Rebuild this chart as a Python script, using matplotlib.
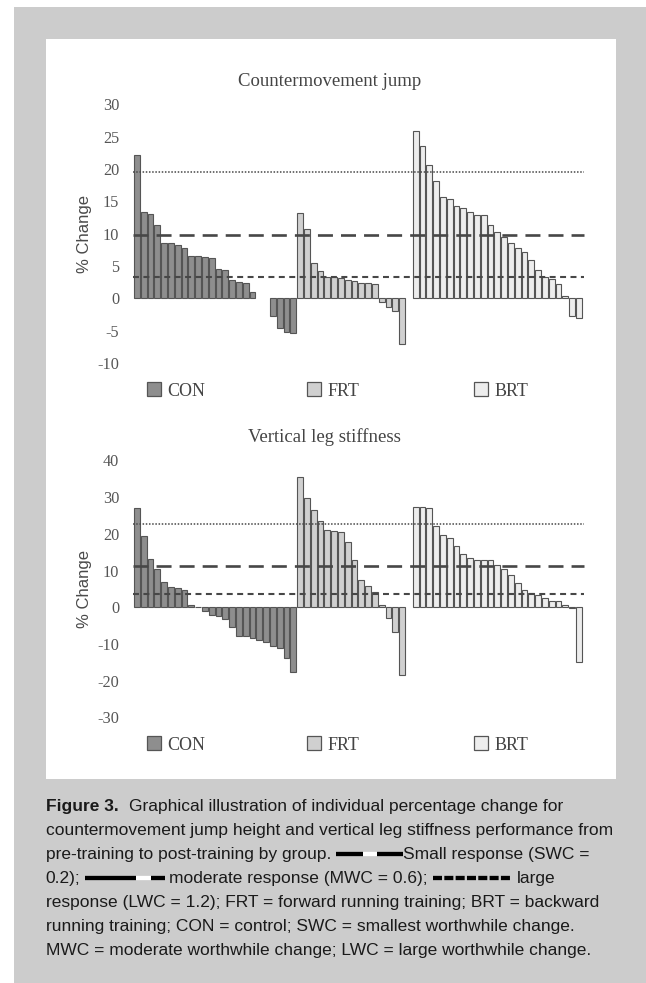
import numpy as np
import matplotlib
matplotlib.use("Agg")
import matplotlib.pyplot as plt
from matplotlib.patches import Rectangle
from matplotlib.lines import Line2D

plt.rcParams['lines.scale_dashes'] = False
plt.rcParams['axes.unicode_minus'] = False

nan = np.nan
# ---------------- data ----------------
groups = ["CON", "FRT", "BRT"]
cmj_con = [22.2, 13.4, 13.0, 11.4, 8.5, 8.5, 8.2, 7.7, 6.5, 6.5, 6.4, 6.2, 4.5, 4.3,
           2.8, 2.5, 2.3, 1.0, nan, nan, -2.8, -4.6, -5.2, -5.4]
cmj_frt = [13.2, 10.7, 5.4, 4.2, 3.35, 3.35, 3.1, 2.8, 2.6, 2.3, 2.3, 2.2, -0.6, -1.3, -1.9, -7.0]
cmj_brt = [25.9, 23.5, 20.6, 18.1, 15.6, 15.3, 14.2, 13.9, 13.4, 12.9, 12.8, 11.3, 10.3, 9.5,
           8.6, 7.8, 7.1, 5.9, 4.3, 3.35, 3.0, 2.2, 0.36, -2.7, -3.0]
ls_con = [27.0, 19.5, 13.2, 10.4, 6.8, 5.6, 5.3, 4.8, 0.5, 0.2, -1.0, -2.0, -2.5, -3.3,
          -5.3, -7.7, -7.7, -8.5, -8.9, -9.5, -10.5, -11.1, -13.7, -17.5]
ls_frt = [35.6, 29.8, 26.5, 23.6, 21.1, 20.7, 20.5, 17.7, 12.9, 7.5, 5.8, 4.2, 0.5, -2.9, -6.8, -18.4]
ls_brt = [27.3, 27.3, 27.0, 22.2, 19.7, 18.8, 16.8, 14.6, 13.5, 12.9, 12.9, 12.9, 11.5, 10.5,
          8.7, 6.5, 4.6, 3.9, 3.4, 2.5, 1.7, 1.7, 0.6, -0.2, -14.9]
cmj_thresholds = {"small": 3.27, "moderate": 9.8, "large": 19.6}
ls_thresholds = {"small": 3.75, "moderate": 11.3, "large": 22.6}
cmj_ticks = [-10, -5, 0, 5, 10, 15, 20, 25, 30]
ls_ticks = [-30, -20, -10, 0, 10, 20, 30, 40]
titles = ["Countermovement jump", "Vertical leg stiffness"]
ylabel = "% Change"

# ---------------- styles ----------------
W, H = 646, 983
fills = {"CON": "#8e8e8e", "FRT": "#d0d0d0", "BRT": "#ededed"}
edge = "#555555"
serif = "Liberation Serif"
sans = "Liberation Sans"

def fx(x):
    return x / W

def fy(y):
    return 1 - y / H

fig = plt.figure(figsize=(W / 100, H / 100), dpi=100)
fig.patch.set_facecolor("white")
fig.add_artist(Rectangle((fx(14), 0), 1 - fx(14), fy(7), transform=fig.transFigure,
                         facecolor="#cccccc", edgecolor="none", zorder=0))
fig.add_artist(Rectangle((fx(45.7), fy(779)), fx(616) - fx(45.7), fy(39) - fy(779),
                         transform=fig.transFigure, facecolor="white", edgecolor="none", zorder=0))

ax_left_px, ax_right_px = 125, 590
x0_px, pitch = 136.85, 6.8
xlim = ((ax_left_px - x0_px) / pitch, (ax_right_px - x0_px) / pitch)


def panel(top_px, bot_px, ylim, ticks, con, frt, brt, thr, title, title_x, title_y, leg_y):
    ax = fig.add_axes([fx(ax_left_px), fy(bot_px), fx(ax_right_px) - fx(ax_left_px),
                       fy(top_px) - fy(bot_px)])
    ax.set_facecolor("none")
    start = {"CON": 0, "FRT": len(con), "BRT": len(con) + len(frt) + 1}
    for g, vals in zip(groups, [con, frt, brt]):
        x = np.arange(len(vals)) + start[g]
        ax.bar(x, vals, width=0.84, color=fills[g], edgecolor=edge, linewidth=0.8, zorder=2)
    xe = (-0.5, start["BRT"] + len(brt) - 0.3)
    lc = "#474747"
    ax.hlines(thr["large"], *xe, colors=lc, linewidth=1.1, linestyles=(0, (1.1, 1.2)), zorder=3)
    ax.hlines(thr["moderate"], *xe, colors=lc, linewidth=1.9, linestyles=(0, (10.8, 5.8)), zorder=3)
    ax.hlines(thr["small"], *xe, colors=lc, linewidth=1.5, linestyles=(0, (4.3, 3.2)), zorder=3)
    ax.set_xlim(*xlim)
    ax.set_ylim(*ylim)
    ax.set_xticks([])
    ax.set_yticks(ticks)
    ax.set_yticklabels([str(t) for t in ticks], fontsize=11.7, family=serif, color="#555555")
    ax.tick_params(axis="y", length=0, pad=4.3)
    for s in ax.spines.values():
        s.set_visible(False)
    fig.text(fx(title_x), fy(title_y), title, ha="center", va="baseline", fontsize=13.5,
             family=serif, color="#444444")
    fig.text(fx(85), fy((top_px + bot_px) / 2), ylabel, rotation=90, ha="center", va="center",
             fontsize=12, family=sans, color="#4a4a4a")
    for g, sx in zip(groups, [146.7, 306.7, 474.3]):
        fig.add_artist(Rectangle((fx(sx), fy(leg_y + 14)), 14 / W, 14 / H, transform=fig.transFigure,
                                 facecolor=fills[g], edgecolor=edge, linewidth=0.9, zorder=3))
        fig.text(fx(sx + 20.5), fy(leg_y + 13.5), g, ha="left", va="baseline", fontsize=13,
                 family=serif, color="#444444")
    return ax


panel(104.3, 362.9, (-10, 30), cmj_ticks, cmj_con, cmj_frt, cmj_brt, cmj_thresholds,
      titles[0], 330, 86.5, 382.3)
panel(460.5, 717.4, (-30, 40), ls_ticks, ls_con, ls_frt, ls_brt, ls_thresholds,
      titles[1], 324, 441.5, 736)

# ---------------- caption ----------------
renderer = fig.canvas.get_renderer()
cap_lines = [
    "countermovement jump height and vertical leg stiffness performance from",
]
probe = fig.text(0, 0, cap_lines[0], fontsize=12, family=sans)
wpx = probe.get_window_extent(renderer).width
probe.remove()
cs = 12 * 567 / wpx
ccol = "#1a1a1a"


def put(x, y, s, bold=False):
    t = fig.text(fx(x), fy(y), s, ha="left", va="baseline", fontsize=cs, family=sans,
                 color=ccol, fontweight="bold" if bold else "normal")
    return t.get_window_extent(renderer).x1


p1 = fig.text(0, 0, "aa", fontsize=cs, family=sans)
p2 = fig.text(0, 0, "a a", fontsize=cs, family=sans)
sp = p2.get_window_extent(renderer).width - p1.get_window_extent(renderer).width
p1.remove(); p2.remove()


def hseg(xa, xb, y, color, lw=3.1, dashes=None):
    kw = dict(transform=fig.transFigure, color=color, linewidth=lw, solid_capstyle="butt",
              dash_capstyle="butt")
    if dashes:
        kw["linestyle"] = (0, dashes)
    fig.add_artist(Line2D([fx(xa), fx(xb)], [fy(y), fy(y)], **kw))


X0 = 45.7
bl = [810.7, 835, 859, 882.7, 906.7, 930.7, 955]
e = put(X0, bl[0], "Figure 3.", bold=True)
put(e + 2.1 * sp, bl[0], "Graphical illustration of individual percentage change for")
put(X0, bl[1], cap_lines[0])
e = put(X0, bl[2], "pre-training to post-training by group.")
g0 = e + sp
gy = bl[2] - 5
hseg(g0, g0 + 27, gy, "black")
hseg(g0 + 27, g0 + 41, gy, "white")
hseg(g0 + 41, g0 + 67, gy, "black")
put(g0 + 67.5, bl[2], "Small response (SWC =")
e = put(X0, bl[3], "0.2);")
g0 = e + sp
gy = bl[3] - 5
hseg(g0, g0 + 51, gy, "black")
hseg(g0 + 51, g0 + 66, gy, "white")
hseg(g0 + 66, g0 + 79.4, gy, "black")
e = put(g0 + 79.4 + sp, bl[3], "moderate response (MWC = 0.6);")
g0 = e + sp
hseg(g0, g0 + 79, gy, "black", dashes=(6.5, 1.65))
put(g0 + 79 + sp, bl[3], "large")
put(X0, bl[4], "response (LWC = 1.2); FRT = forward running training; BRT = backward")
put(X0, bl[5], "running training; CON = control; SWC = smallest worthwhile change.")
put(X0, bl[6], "MWC = moderate worthwhile change; LWC = large worthwhile change.")

fig.savefig("out.png", dpi=100)
